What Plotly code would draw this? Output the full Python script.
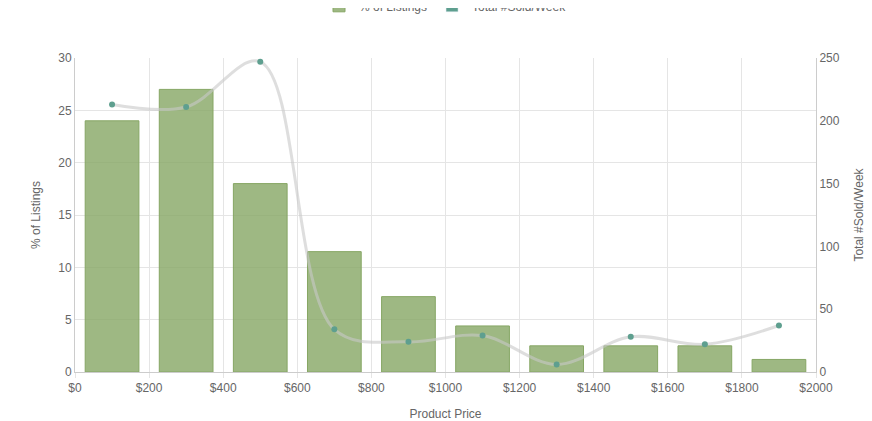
import plotly.graph_objects as go

prices = [100, 300, 500, 700, 900, 1100, 1300, 1500, 1700, 1900]
pct_listings = [24, 27, 18, 11.5, 7.2, 4.4, 2.5, 2.5, 2.5, 1.2]
sold_per_week = [213, 211, 247, 34, 24, 29, 6, 28, 22, 37]
tick_vals = list(range(0, 2001, 200))
tick_text = [f"${v}" for v in tick_vals]

fig = go.Figure()
fig.add_trace(go.Bar(x=prices, y=pct_listings, name="% of Listings", width=145,
                     marker=dict(color="rgba(134,166,100,0.8)", line=dict(color="rgba(134,166,100,1)", width=1))))
fig.add_trace(go.Scatter(x=prices, y=sold_per_week, name="Total #Sold/Week", yaxis="y2", showlegend=False,
                         mode="lines+markers", line=dict(shape="spline", smoothing=1.0, color="rgba(200,200,200,0.6)", width=3),
                         marker=dict(color="#5e9f8f", size=6)))
fig.add_trace(go.Bar(x=[None], y=[None], name="Total #Sold/Week", marker_color="#5e9f8f"))

fig.update_layout(
    width=872, height=421, paper_bgcolor="white", plot_bgcolor="white",
    margin=dict(l=67, r=64, t=50, b=57, autoexpand=False),
    font=dict(family="Liberation Sans, Arial", size=12, color="#666"),
    legend=dict(orientation="h", x=0.5, xanchor="center", y=1.12, yanchor="bottom", font=dict(size=12)),
    barmode="overlay",
    xaxis=dict(range=[0, 2000], tickvals=tick_vals, ticktext=tick_text, showgrid=True, gridcolor="#e5e5e5",
               title=dict(text="Product Price", font=dict(size=12)), zeroline=False, showline=True, linecolor="#ccc",
               ticks="outside", tickcolor="#e5e5e5", automargin=False),
    yaxis=dict(range=[0, 30], dtick=5, showgrid=True, gridcolor="#e5e5e5", zeroline=False, showline=True, linecolor="#ccc",
               title=dict(text="% of Listings", font=dict(size=12)), automargin=False),
    yaxis2=dict(range=[0, 250], dtick=50, overlaying="y", side="right", showgrid=False, zeroline=False, automargin=False,
                showline=True, linecolor="#ccc", title=dict(text="Total #Sold/Week", font=dict(size=12))),
)
fig.write_html("out.html")
